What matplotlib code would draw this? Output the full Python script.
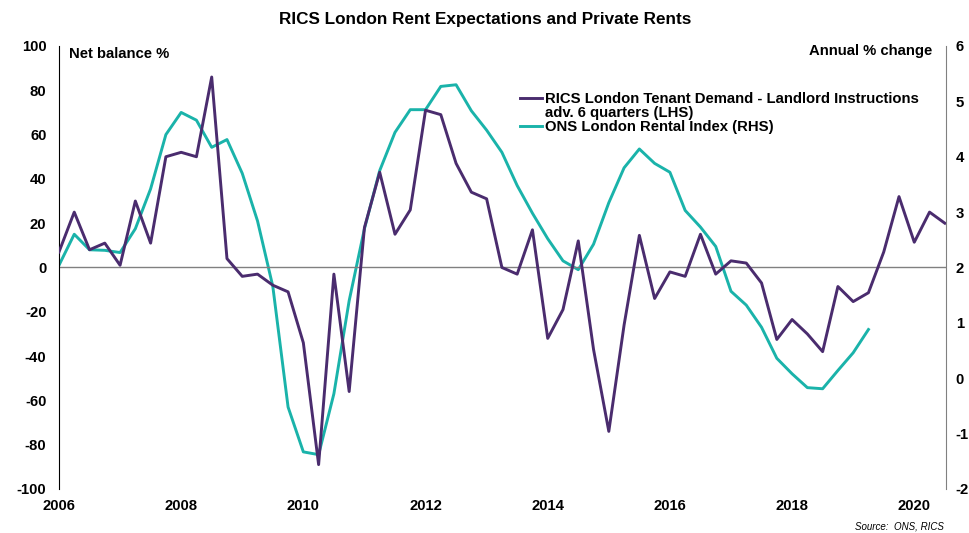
import matplotlib.pyplot as plt
from matplotlib.lines import Line2D
import numpy as np

plt.rcParams['font.family'] = ['Liberation Sans', 'DejaVu Sans']
plt.rcParams['font.weight'] = 'bold'
plt.rcParams['axes.unicode_minus'] = False

# quarterly dates, starting 2006 Q1
rics_start = 2006.0
rics_vals = [7, 25, 8, 11, 1, 30, 11, 50, 52, 50, 86, 4, -4, -3, -8, -11,
             -34, -89, -3, -56, 18, 43, 15, 26, 71, 69, 47, 34, 31, 0, -3, 17,
             -32, -19, 12, -37, -74, -26, 14.5, -14, -2, -4, 15, -3, 3, 2,
             -7, -32.5, -23.5, -30, -38, -8.6, -15.4, -11.4, 7, 32, 11.4, 25, 20]

ons_start = 2006.0
ons_vals = [2.04, 2.6, 2.32, 2.31, 2.27, 2.7, 3.42, 4.4, 4.8, 4.66, 4.17, 4.31,
            3.7, 2.84, 1.66, -0.52, -1.33, -1.38, -0.28, 1.4, 2.7, 3.75, 4.44,
            4.85, 4.85, 5.27, 5.3, 4.83, 4.48, 4.08, 3.48, 2.98, 2.52, 2.12,
            1.96, 2.42, 3.17, 3.8, 4.14, 3.88, 3.72, 3.03, 2.73, 2.38, 1.57,
            1.32, 0.92, 0.36, 0.08, -0.17, -0.19, 0.14, 0.46, 0.88]

rics_x = rics_start + 0.25 * np.arange(len(rics_vals))
ons_x = ons_start + 0.25 * np.arange(len(ons_vals))

purple = '#4a2c6e'
teal = '#1ab3aa'
fs = 10.7

fig = plt.figure(figsize=(9.7, 5.33), dpi=100)
ax = fig.add_axes([0.0608, 0.0826, 0.9145, 0.8311])
ax2 = ax.twinx()

ax.axhline(0, color='#808080', lw=1.0, zorder=1)
l1, = ax.plot(rics_x, rics_vals, color=purple, lw=2.1, zorder=3,
              label='RICS London Tenant Demand - Landlord Instructions')
l2, = ax2.plot(ons_x, ons_vals, color=teal, lw=2.1, zorder=2,
               label='ONS London Rental Index (RHS)')
ax.set_zorder(ax2.get_zorder() + 1)
ax.patch.set_visible(False)

ax.set_xlim(2006, 2020.52)
ax.set_ylim(-100, 100)
ax2.set_ylim(-2, 6)
ax.set_yticks(range(-100, 101, 20))
ax2.set_yticks(range(-2, 7))
ax.set_xticks(range(2006, 2021, 2))

for a in (ax, ax2):
    a.spines['top'].set_visible(False)
    a.spines['bottom'].set_visible(False)
    a.tick_params(length=0, labelsize=fs)
ax.spines['right'].set_visible(False)
ax.spines['left'].set_color('black')
ax2.spines['left'].set_visible(False)
ax2.spines['right'].set_color('#808080')
ax.tick_params(axis='y', pad=9)
ax.tick_params(axis='x', pad=7)
ax2.tick_params(axis='y', pad=7)

ax.text(0.011, 0.998, 'Net balance %', transform=ax.transAxes,
        fontsize=fs, fontweight='bold', va='top', ha='left')
ax.text(0.984, 1.005, 'Annual % change', transform=ax.transAxes,
        fontsize=fs, fontweight='bold', va='top', ha='right')

fig.suptitle('RICS London Rent Expectations and Private Rents',
             fontsize=12.3, fontweight='bold', x=0.5, y=0.978)

# second line of the RICS label as a blank-handle entry, so the handle sits on line one
blank = Line2D([], [], color='none', label='adv. 6 quarters (LHS)')
leg = ax.legend(handles=[l1, blank, l2], loc='upper left',
                bbox_to_anchor=(0.513, 0.909), frameon=False, fontsize=fs,
                handlelength=1.5, handletextpad=0.15, labelspacing=0.0,
                borderaxespad=0)

fig.text(0.973, 0.003, 'Source:  ONS, RICS', fontsize=7, style='italic',
         fontweight='normal', ha='right', va='bottom')

fig.savefig('out.png', dpi=100)
